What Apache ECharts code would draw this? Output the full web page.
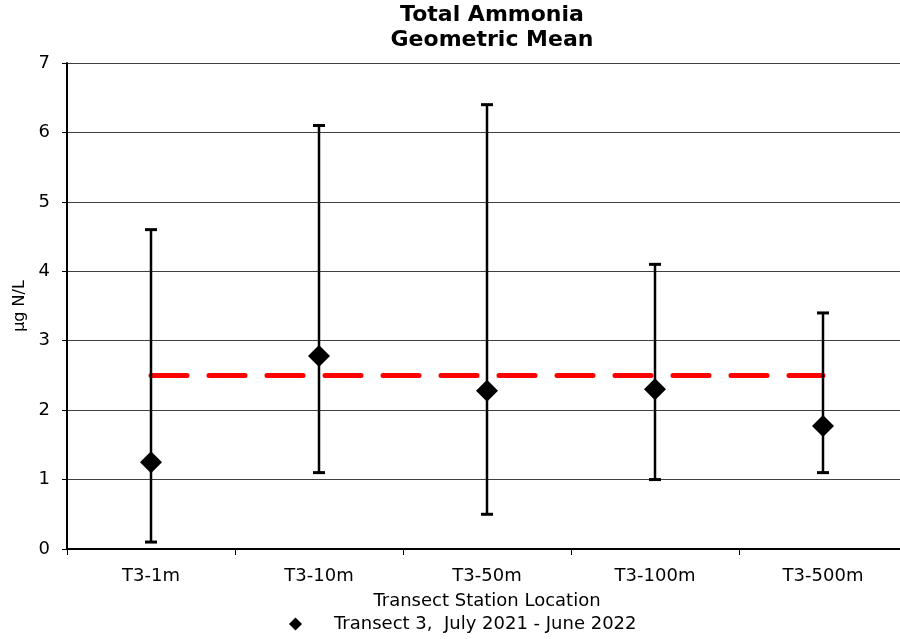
<!DOCTYPE html>
<html>
<head>
<meta charset="utf-8">
<script src="https://cdn.jsdelivr.net/npm/echarts@6/dist/echarts.min.js"></script>
<style>
html,body{margin:0;padding:0;background:#fff;overflow:hidden;}
#chart{width:907px;height:639px;}
</style>
</head>
<body>
<div id="chart"></div>
<script>
const categories = ['T3-1m', 'T3-10m', 'T3-50m', 'T3-100m', 'T3-500m'];
const geoMean = [1.25, 2.78, 2.28, 2.30, 1.77];
const upperBound = [4.6, 6.1, 6.4, 4.1, 3.4];
const lowerBound = [0.1, 1.1, 0.5, 1.0, 1.1];
const referenceLevel = [2.5, 2.5, 2.5, 2.5, 2.5];
const yMin = 0, yMax = 7, yStep = 1;
const titleText = 'Total Ammonia\nGeometric Mean';
const xName = 'Transect Station Location';
const yName = '\u00b5g N/L';
const seriesName = 'Transect 3,  July 2021 - June 2022';

const FONT = 'DejaVu Sans';
const errData = categories.map((c, i) => [i, lowerBound[i], upperBound[i]]);

const chart = echarts.init(document.getElementById('chart'), null, {renderer: 'canvas'});
chart.setOption({
  backgroundColor: '#fff',
  animation: false,
  title: {
    text: titleText,
    left: 487,
    textAlign: 'center',
    top: -2,
    textStyle: {fontFamily: FONT, fontWeight: 'bold', fontSize: 22, lineHeight: 25, color: '#000'}
  },
  legend: {
    data: [seriesName],
    left: 284,
    top: 610,
    icon: 'diamond',
    itemWidth: 13,
    itemHeight: 13,
    textStyle: {fontFamily: FONT, fontSize: 18, color: '#000', padding: [0, 0, 0, 27]}
  },
  grid: {left: 67, right: 0, top: 63, bottom: 90, containLabel: false},
  xAxis: {
    type: 'category',
    data: categories,
    boundaryGap: true,
    name: xName,
    nameLocation: 'middle',
    nameGap: 43,
    nameTextStyle: {fontFamily: FONT, fontSize: 18, color: '#000'},
    axisLine: {lineStyle: {color: '#000', width: 2}},
    axisTick: {show: true, length: 6, lineStyle: {color: '#000', width: 1}},
    axisLabel: {fontFamily: FONT, fontSize: 18, color: '#000', margin: 18},
    splitLine: {show: false}
  },
  yAxis: {
    type: 'value',
    min: yMin,
    max: yMax,
    interval: yStep,
    name: yName,
    nameLocation: 'middle',
    nameRotate: 90,
    nameGap: 38,
    nameTextStyle: {fontFamily: FONT, fontSize: 16, color: '#000'},
    axisLine: {show: true, lineStyle: {color: '#000', width: 2}},
    axisTick: {show: true, length: 5, lineStyle: {color: '#000', width: 1}},
    axisLabel: {fontFamily: FONT, fontSize: 18, color: '#000', margin: 17},
    splitLine: {show: true, lineStyle: {color: '#404040', width: 1}}
  },
  series: [
    {
      name: 'Reference',
      type: 'line',
      data: referenceLevel,
      symbol: 'none',
      z: 2,
      lineStyle: {color: '#ff0000', width: 5, type: [36, 22], cap: 'round'}
    },
    {
      name: 'ErrorBars',
      type: 'custom',
      data: errData,
      z: 3,
      renderItem: function (params, api) {
        const x = api.value(0);
        const lo = api.coord([x, api.value(1)]);
        const hi = api.coord([x, api.value(2)]);
        const half = 6;
        const st = {stroke: '#000', lineWidth: 2.5};
        return {
          type: 'group',
          children: [
            {type: 'line', shape: {x1: lo[0], y1: lo[1], x2: hi[0], y2: hi[1]}, style: st},
            {type: 'line', shape: {x1: hi[0] - half, y1: hi[1], x2: hi[0] + half, y2: hi[1]}, style: {stroke: '#000', lineWidth: 3}},
            {type: 'line', shape: {x1: lo[0] - half, y1: lo[1], x2: lo[0] + half, y2: lo[1]}, style: {stroke: '#000', lineWidth: 3}}
          ]
        };
      }
    },
    {
      name: seriesName,
      type: 'scatter',
      data: geoMean,
      symbol: 'diamond',
      symbolSize: [22, 22],
      z: 4,
      itemStyle: {color: '#000', opacity: 1}
    }
  ]
});
</script>
</body>
</html>
